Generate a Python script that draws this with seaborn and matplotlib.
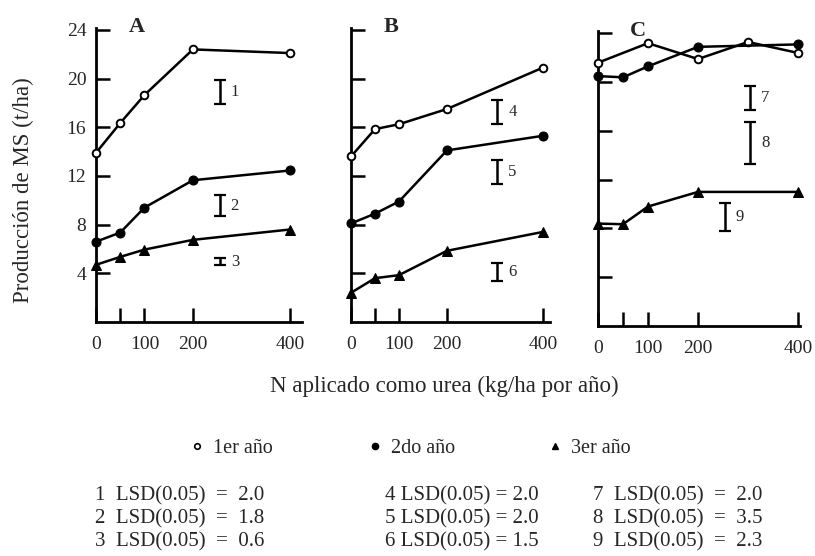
import matplotlib
matplotlib.use("Agg")
import matplotlib.pyplot as plt
from matplotlib.lines import Line2D
import seaborn as sns
import pandas as pd

# Dosis de N (kg/ha por año)
n_dose = [0, 50, 100, 200, 400]
n_dose_c1 = [0, 100, 200, 300, 400]

# Producción de materia seca (t/ha) por sitio y año
a_y1 = [13.9, 16.35, 18.65, 22.4, 22.1]
a_y2 = [6.6, 7.35, 9.4, 11.65, 12.45]
a_y3 = [4.7, 5.35, 5.95, 6.75, 7.6]

b_y1 = [13.6, 15.85, 16.25, 17.5, 20.9]
b_y2 = [8.1, 8.9, 9.9, 14.1, 15.3]
b_y3 = [2.4, 3.6, 3.85, 5.85, 7.4]

c_y1 = [21.6, 23.2, 21.9, 23.3, 22.4]
c_y2 = [20.5, 20.4, 21.3, 22.9, 23.1]
c_y3 = [8.4, 8.35, 9.8, 11.0, 11.0]

# Diferencia mínima significativa (LSD 0.05): valor, posición en N y centro en MS
lsd_ids = [1, 2, 3, 4, 5, 6, 7, 8, 9]
lsd_values = [2.0, 1.8, 0.6, 2.0, 2.0, 1.5, 2.0, 3.5, 2.3]
lsd_n = [255, 255, 255, 305, 305, 305, 304, 304, 253]
lsd_center = [18.9, 9.57, 4.95, 17.25, 12.3, 4.1, 18.7, 15.0, 8.97]
lsd_panel = [0, 0, 0, 1, 1, 1, 2, 2, 2]

panel_names = ["A", "B", "C"]
year_labels = ["1er año", "2do año", "3er año"]
x_ticks = [0, 50, 100, 200, 400]
x_ticklabels = ["0", "", "100", "200", "400"]
y_ticks = [4, 8, 12, 16, 20, 24]

sns.set_style("ticks")
plt.rcParams["font.family"] = ["Liberation Serif", "DejaVu Serif"]

W, H = 815, 556
fig = plt.figure(figsize=(W / 100, H / 100), dpi=100)


def px_axes(left, right, bottom, top):
    return fig.add_axes([left / W, 1 - bottom / H, (right - left) / W, (bottom - top) / H])


ax_a = px_axes(96, 302, 322, 27.5)
ax_b = px_axes(351, 550, 322, 27.5)
ax_c = px_axes(598, 800, 326, 31)
axes = [ax_a, ax_b, ax_c]
xlims = [425, 415, 404]

series = [
    [(n_dose, a_y1), (n_dose, a_y2), (n_dose, a_y3)],
    [(n_dose, b_y1), (n_dose, b_y2), (n_dose, b_y3)],
    [(n_dose_c1, c_y1), (n_dose, c_y2), (n_dose, c_y3)],
]

marker_styles = [
    dict(marker="o", markersize=5.5, markerfacecolor="white", markeredgecolor="black", markeredgewidth=1.4),
    dict(marker="o", markersize=6.5, markerfacecolor="black", markeredgecolor="black"),
    dict(marker="^", markersize=7.5, markerfacecolor="black", markeredgecolor="black"),
]

for ax, name, data, xmax in zip(axes, panel_names, series, xlims):
    for (xs, ys), ms in zip(data, marker_styles):
        df = pd.DataFrame({"N": xs, "MS": ys})
        sns.lineplot(data=df, x="N", y="MS", ax=ax, color="black", linewidth=1.8,
                     clip_on=False, zorder=3, **ms)
    ax.set_xlim(0, xmax)
    ax.set_ylim(0, 24.2)
    ax.set_xticks(x_ticks)
    ax.set_xticklabels(x_ticklabels)
    ax.set_yticks(y_ticks)
    ax.set_xlabel("")
    ax.set_ylabel("")
    sns.despine(ax=ax)
    for s in ("left", "bottom"):
        ax.spines[s].set_linewidth(2.0)
        ax.spines[s].set_color("black")
    ax.tick_params(axis="both", direction="in", length=10, width=1.8, color="black",
                   labelsize=14, pad=7)
    ax.tick_params(axis="x", pad=10)
    ax.text(0.2, 1.0, name, transform=ax.transAxes, fontsize=16, fontweight="bold",
            ha="center", va="center")
    if ax is not ax_a:
        ax.tick_params(axis="y", labelleft=False)

fig.text(23 / W, 1 - 190 / H, "Producción de MS (t/ha)", fontsize=16.5, rotation=90,
         ha="center", va="center")

# Barras de LSD
for i, lsd, xn, yc, p in zip(lsd_ids, lsd_values, lsd_n, lsd_center, lsd_panel):
    ax = axes[p]
    ax.errorbar([xn], [yc], yerr=[lsd / 2], fmt="none", ecolor="black", elinewidth=1.8,
                capsize=4, capthick=1.6)
    ax.annotate(str(i), (xn, yc), xytext=(8, 0), textcoords="offset points",
                fontsize=12, va="center", ha="left")

fig.text(444 / W, 1 - 386 / H, "N aplicado como urea (kg/ha por año)", fontsize=16.5,
         ha="center", va="center")

# Leyenda de años
legend_x = [197, 375, 555]
legend_markers = [
    dict(marker="o", markersize=4, markerfacecolor="white", markeredgecolor="black", markeredgewidth=1.2),
    dict(marker="o", markersize=4.5, markerfacecolor="black", markeredgecolor="black"),
    dict(marker="^", markersize=5, markerfacecolor="black", markeredgecolor="black"),
]
for lx, lab, ms in zip(legend_x, year_labels, legend_markers):
    h = Line2D([], [], linestyle="none", **ms)
    fig.legend([h], [lab], loc="center left", bbox_to_anchor=((lx - 7.8) / W, 1 - 448 / H),
               frameon=False, borderpad=0, borderaxespad=0, handlelength=0.8,
               handletextpad=0.4, fontsize=14.5)

# Texto de LSD
col_x = [95, 385, 593]
row_y = [496, 519, 542]
fmt = ["{i}  LSD(0.05)  =  {v:.1f}", "{i} LSD(0.05) = {v:.1f}", "{i}  LSD(0.05)  =  {v:.1f}"]
for k, (i, v) in enumerate(zip(lsd_ids, lsd_values)):
    c, r = divmod(k, 3)
    fig.text(col_x[c] / W, 1 - row_y[r] / H, fmt[c].format(i=i, v=v), fontsize=15,
             ha="left", va="center")

fig.savefig("out.png", dpi=100, facecolor="white")
